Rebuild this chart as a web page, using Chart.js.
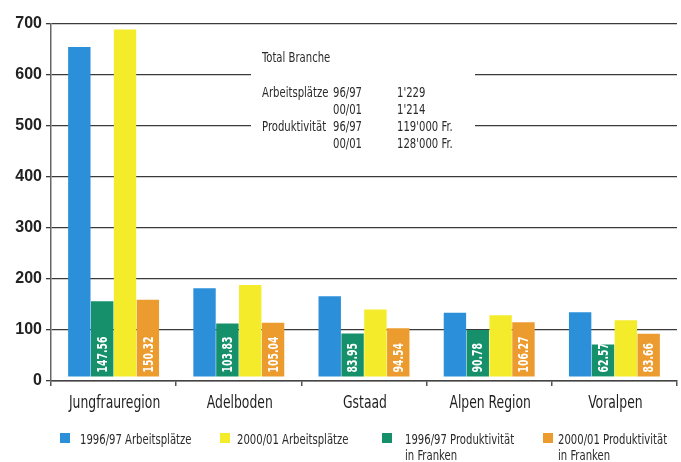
<!DOCTYPE html>
<html>
<head>
<meta charset="utf-8">
<script src="https://cdn.jsdelivr.net/npm/chart.js@4.4.1/dist/chart.umd.min.js"></script>
<style>
  html, body { margin: 0; padding: 0; background: #fff; }
  #wrap { width: 681px; height: 462px; }
</style>
</head>
<body>
<div id="wrap"><canvas id="chart" width="681" height="462"></canvas></div>
<script>
const categories = ['Jungfrauregion', 'Adelboden', 'Gstaad', 'Alpen Region', 'Voralpen'];
const jobs9697 = [646, 173, 157, 125, 126];
const jobs0001 = [680, 179, 131, 120, 110];
const prod9697 = [147.56, 103.83, 83.95, 90.78, 62.57];
const prod0001 = [150.32, 105.04, 94.54, 106.27, 83.66];
const yTicks = [0, 100, 200, 300, 400, 500, 600, 700];

const summaryTitle = 'Total Branche';
const summaryRows = [
    ['Arbeitsplätze', '96/97', "1'229"],
    ['', '00/01', "1'214"],
    ['Produktivität', '96/97', "119'000 Fr."],
    ['', '00/01', "128'000 Fr."]
];

const legendLabels = [
    ['1996/97 Arbeitsplätze'],
    ['2000/01 Arbeitsplätze'],
    ['1996/97 Produktivität', 'in Franken'],
    ['2000/01 Produktivität', 'in Franken']
];

const BLUE = '#2b90d9';
const YELLOW = '#f4ec2a';
const GREEN = '#16906a';
const ORANGE = '#ec9b2f';
const COND = "'DejaVu Sans Condensed', 'DejaVu Sans', sans-serif";
const TEXT = '#2a2a2a';

// bars in the original sit a little above the axis line
const LIFT = 9;
const lifted = arr => arr.map(v => [LIFT, v + LIFT]);

// the original uses a narrow face, so squeeze text horizontally
function narrowText(ctx, text, x, y, sx, align) {
    ctx.save();
    ctx.translate(x, y);
    ctx.scale(sx, 1);
    ctx.textAlign = align || 'left';
    ctx.fillText(text, 0, 0);
    ctx.restore();
}

const textPlugin = {
    id: 'texts',
    beforeDatasetsDraw(chart) {
        const ctx = chart.ctx;
        ctx.save();
        ctx.fillStyle = '#fff';
        ctx.fillRect(251, 40, 224, 115);
        ctx.restore();
    },
    afterDraw(chart) {
        const ctx = chart.ctx;
        ctx.save();
        ctx.textBaseline = 'alphabetic';

        // summary box
        ctx.fillStyle = TEXT;
        ctx.font = '14px ' + COND;
        narrowText(ctx, summaryTitle, 262, 62, 0.8);
        summaryRows.forEach((r, i) => {
            const y = 97 + i * 17;
            narrowText(ctx, r[0], 262, y, 0.8);
            narrowText(ctx, r[1], 333, y, 0.8);
            narrowText(ctx, r[2], 397, y, 0.8);
        });

        // category labels
        const xs = chart.scales.x;
        ctx.font = '17px ' + COND;
        ctx.fillStyle = '#1e1e1e';
        categories.forEach((c, i) => narrowText(ctx, c, xs.getPixelForValue(i) + 1, 408, 0.81, 'center'));

        // value labels inside the productivity bars
        ctx.fillStyle = '#fff';
        ctx.font = 'bold 14px ' + COND;
        [1, 3].forEach(di => {
            const meta = chart.getDatasetMeta(di);
            const vals = di === 1 ? prod9697 : prod0001;
            meta.data.forEach((bar, i) => {
                ctx.save();
                ctx.translate(bar.x, bar.base - 4);
                ctx.rotate(-Math.PI / 2);
                ctx.textBaseline = 'middle';
                narrowText(ctx, vals[i].toFixed(2), 0, 1, 0.74);
                ctx.restore();
            });
        });

        // legend
        const legendX = [[60, 80], [220, 237], [382, 405], [543, 558]];
        const legendColors = [BLUE, YELLOW, GREEN, ORANGE];
        ctx.font = '14px ' + COND;
        legendLabels.forEach((lines, i) => {
            ctx.fillStyle = legendColors[i];
            ctx.fillRect(legendX[i][0], 433, 10, 10);
            ctx.fillStyle = TEXT;
            lines.forEach((t, j) => narrowText(ctx, t, legendX[i][1], 444 + j * 16, 0.8));
        });
        ctx.restore();
    }
};

new Chart(document.getElementById('chart').getContext('2d'), {
    type: 'bar',
    data: {
        labels: categories,
        datasets: [
            { label: '1996/97 Arbeitsplätze', backgroundColor: BLUE, data: lifted(jobs9697) },
            { label: '1996/97 Produktivität in Franken', backgroundColor: GREEN, data: lifted(prod9697) },
            { label: '2000/01 Arbeitsplätze', backgroundColor: YELLOW, data: lifted(jobs0001) },
            { label: '2000/01 Produktivität in Franken', backgroundColor: ORANGE, data: lifted(prod0001) }
        ]
    },
    options: {
        responsive: false,
        animation: false,
        devicePixelRatio: 1,
        layout: { padding: { top: 24, right: 4, bottom: 50, left: 0 } },
        plugins: { legend: { display: false }, tooltip: { enabled: false } },
        datasets: { bar: { categoryPercentage: 0.73, barPercentage: 0.98 } },
        scales: {
            x: {
                afterFit: s => { s.height = 31; },
                grid: { drawOnChartArea: false, drawTicks: true, tickLength: 5, color: '#555', lineWidth: 1.5 },
                border: { color: '#444', width: 1.5 },
                ticks: { display: false }
            },
            y: {
                min: 0,
                max: 700,
                afterFit: s => { s.width = 51; },
                afterBuildTicks: s => { s.ticks = yTicks.map(v => ({ value: v })); },
                grid: { color: '#3a3a3a', lineWidth: 1.3, tickLength: 5 },
                border: { color: '#666', width: 1.5 },
                ticks: { color: '#222', padding: 4, font: { family: "'Liberation Sans', Arial, sans-serif", size: 16, weight: 'bold' } }
            }
        }
    },
    plugins: [textPlugin]
});
</script>
</body>
</html>
